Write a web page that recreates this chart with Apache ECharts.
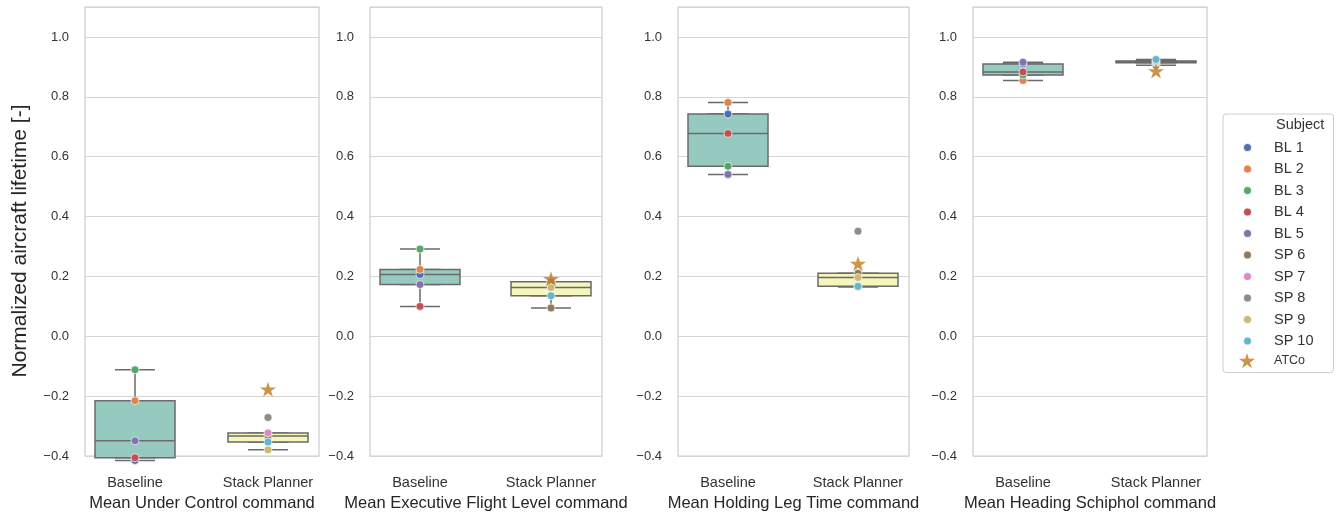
<!DOCTYPE html>
<html><head><meta charset="utf-8">
<script src="https://cdn.jsdelivr.net/npm/echarts@6/dist/echarts.min.js"></script>
<style>html,body{margin:0;padding:0;background:#fff}#c{width:1341px;height:517px}</style>
</head><body><div id="c"></div>
<script>
// ---- data ----
const categories = ['Baseline', 'Stack Planner'];
const panelTitles = ['Mean Under Control command', 'Mean Executive Flight Level command',
  'Mean Holding Leg Time command', 'Mean Heading Schiphol command'];
const yTicks = [-0.4, -0.2, 0.0, 0.2, 0.4, 0.6, 0.8, 1.0];
const subjects = ['BL 1', 'BL 2', 'BL 3', 'BL 4', 'BL 5', 'SP 6', 'SP 7', 'SP 8', 'SP 9', 'SP 10'];
// one value per panel (Under Control, Executive FL, Holding Leg, Heading Schiphol)
const BL1  = [-0.395, 0.218, 0.747, 0.912];
const BL2  = [-0.198, 0.235, 0.785, 0.858];
const BL3  = [-0.096, 0.302, 0.575, 0.876];
const BL4  = [-0.386, 0.113, 0.683, 0.886];
const BL5  = [-0.330, 0.185, 0.548, 0.918];
const SP6  = [-0.314, 0.108, 0.222, 0.908];
const SP7  = [-0.304, 0.194, 0.177, 0.916];
const SP8  = [-0.253, 0.194, 0.361, 0.919];
const SP9  = [-0.360, 0.175, 0.208, 0.922];
const SP10 = [-0.334, 0.148, 0.179, 0.927];
const ATCo = [-0.160, 0.204, 0.254, 0.889];

const subjectValues = [BL1, BL2, BL3, BL4, BL5, SP6, SP7, SP8, SP9, SP10];
const subjectColors = ['#4C72B0', '#DD8452', '#55A868', '#C44E52', '#8172B3',
  '#937860', '#DA8BC3', '#8C8C8C', '#CCB974', '#64B5CD'];
const boxColors = ['#96cac1', '#f5f5bc'];
const starColor = '#c27a1a';
const starPath = 'path://M50,0 L61.2,34.5 L97.6,34.5 L68.2,55.9 L79.4,90.5 L50,69.1 L20.6,90.5 L31.8,55.9 L2.4,34.5 L38.8,34.5 Z';

// ---- layout ----
const frames = [[85, 319], [370, 602], [678, 909], [973, 1207]];
const gTop = 7, gBottom = 517 - 462;
const FONT = 'Liberation Sans, Arial, Helvetica, sans-serif';

function quantile(s, p) {
  const pos = (s.length - 1) * p, lo = Math.floor(pos), hi = Math.ceil(pos);
  return s[lo] + (s[hi] - s[lo]) * (pos - lo);
}
function boxStats(vals) {
  const s = vals.slice().sort((a, b) => a - b);
  const q1 = quantile(s, 0.25), med = quantile(s, 0.5), q3 = quantile(s, 0.75);
  const iqr = q3 - q1;
  const lo = s.find(v => v >= q1 - 1.5 * iqr - 1e-9);
  const hi = s.slice().reverse().find(v => v <= q3 + 1.5 * iqr + 1e-9);
  return [lo, q1, med, q3, hi];
}
const fmt = v => (v < -1e-9 ? '\u2212' : '') + Math.abs(v).toFixed(1);

const grid = [], xAxis = [], yAxis = [], series = [];
function dataGrid(dl, dr, labels) {
  const i = grid.length;
  grid.push({ left: dl, width: dr - dl, top: gTop, bottom: gBottom });
  xAxis.push({ gridIndex: i, type: 'category', data: categories, boundaryGap: false,
    axisLine: { show: false }, axisTick: { show: false }, splitLine: { show: false },
    axisLabel: { show: labels, fontFamily: FONT, fontSize: 14.5, color: '#333', margin: 13, interval: 0 } });
  yAxis.push({ gridIndex: i, type: 'value', min: -0.4, max: 1.1, show: false });
  return i;
}
frames.forEach(([L, R], p) => {
  const fi = grid.length;
  grid.push({ left: L, width: R - L, top: gTop, bottom: gBottom, show: true,
    borderColor: '#cccccc', borderWidth: 1.2, backgroundColor: 'transparent' });
  xAxis.push({ gridIndex: fi, type: 'value', min: 0, max: 1,
    axisLine: { show: false }, axisTick: { show: false }, axisLabel: { show: false }, splitLine: { show: false },
    name: panelTitles[p], nameLocation: 'middle', nameGap: 39,
    nameTextStyle: { fontFamily: FONT, fontSize: 16.5, color: '#262626' } });
  yAxis.push({ gridIndex: fi, type: 'value', min: -0.4, max: 1.1, interval: 0.2,
    axisLine: { show: false }, axisTick: { show: false },
    axisLabel: { fontFamily: FONT, fontSize: 13, color: '#333', margin: 16, showMaxLabel: false,
      formatter: v => yTicks.some(t => Math.abs(t - v) < 1e-6) ? fmt(v) : '' },
    splitLine: { lineStyle: { color: '#d5d5d5', width: 1 } } });

  const dl = L + 50, dr = R - 51;
  const wi = dataGrid(dl, dr, false);   // whiskers
  const di = dataGrid(dl, dr, true);    // boxes + points

  const blVals = subjectValues.slice(0, 5).map(a => a[p]);
  const spVals = subjectValues.slice(5).map(a => a[p]);
  const stats = [boxStats(blVals), boxStats(spVals)];
  series.push({ type: 'boxplot', xAxisIndex: wi, yAxisIndex: wi, boxWidth: [40, 40], z: 2,
    silent: true, itemStyle: { color: '#6a6a6a', borderColor: '#6a6a6a', borderWidth: 1.5 },
    data: stats.map(s => ({ value: s })) });
  series.push({ type: 'boxplot', xAxisIndex: di, yAxisIndex: di, boxWidth: [80, 80], z: 3,
    silent: true,
    data: stats.map((s, i) => ({ value: [s[1], s[1], s[2], s[3], s[3]],
      itemStyle: { color: boxColors[i], borderColor: '#6a6a6a', borderWidth: 1.5 } })) });
  subjects.forEach((name, k) => {
    series.push({ type: 'scatter', name, xAxisIndex: di, yAxisIndex: di, clip: false, z: 4,
      symbol: 'circle', symbolSize: 8,
      itemStyle: { color: subjectColors[k], borderColor: 'rgba(255,255,255,0.85)', borderWidth: 0.8, opacity: 1 },
      data: [[k < 5 ? 0 : 1, subjectValues[k][p]]] });
  });
  series.push({ type: 'scatter', name: 'ATCo', xAxisIndex: di, yAxisIndex: di, clip: false, z: 5,
    symbol: starPath, symbolSize: [16, 15], itemStyle: { color: starColor },
    data: [[1, ATCo[p]]] });
});

const chart = echarts.init(document.getElementById('c'));
chart.setOption({
  animation: false,
  backgroundColor: '#fff',
  textStyle: { fontFamily: FONT },
  grid, xAxis, yAxis, series,
  legend: [
    { orient: 'vertical', left: 1223, top: 114, padding: [26, 20, 24, 19],
      borderColor: '#cccccc', borderWidth: 1, borderRadius: 3, backgroundColor: '#fff',
      itemWidth: 9, itemHeight: 9, itemGap: 6.5,
      textStyle: { fontFamily: FONT, fontSize: 14.5, color: '#333', padding: [0, 0, 0, 17] },
      data: subjects.map(n => ({ name: n, icon: 'circle' })) },
    { orient: 'vertical', left: 1239, top: 353, padding: 0,
      itemWidth: 16, itemHeight: 16,
      textStyle: { fontFamily: FONT, fontSize: 12.5, color: '#333', padding: [0, 0, 0, 14] },
      data: [{ name: 'ATCo', icon: starPath }] }
  ],
  graphic: [
    { type: 'text', left: 1276, top: 117, z: 100,
      style: { text: 'Subject', font: '14.5px ' + FONT, fill: '#333' } },
    { type: 'text', x: 20, y: 241, rotation: Math.PI / 2, z: 100,
      style: { text: 'Normalized aircraft lifetime [-]', font: '21px ' + FONT, fill: '#262626',
        textAlign: 'center', textVerticalAlign: 'middle' } }
  ]
});
</script></body></html>
